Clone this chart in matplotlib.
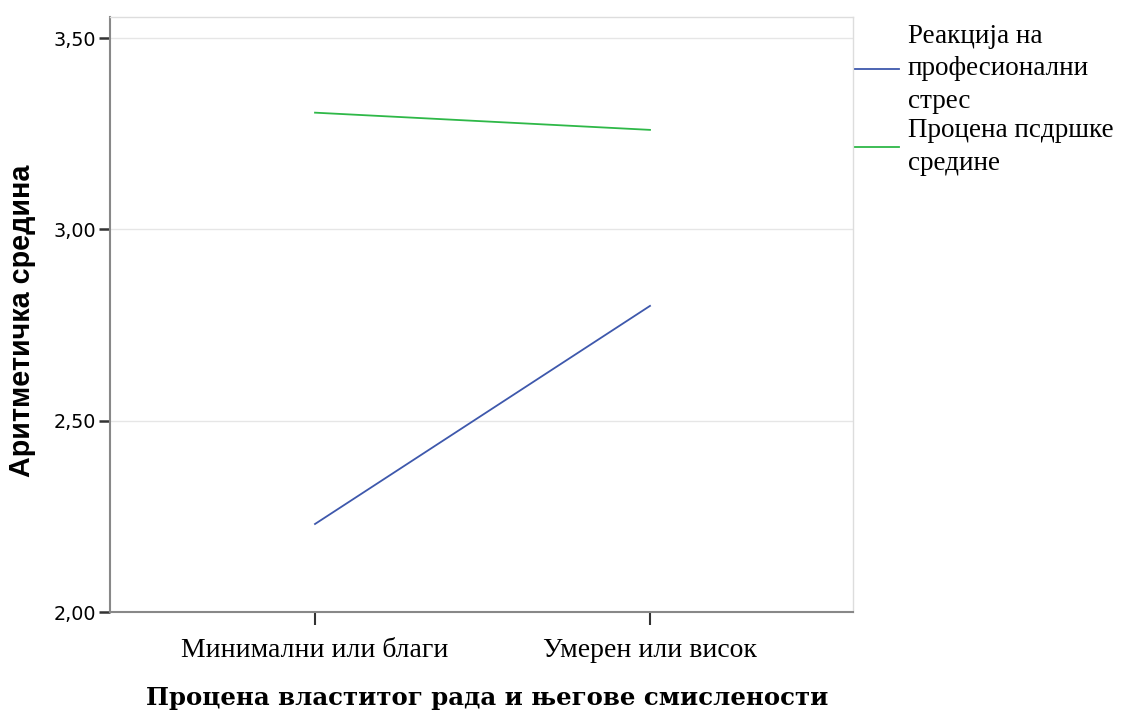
import matplotlib.pyplot as plt

categories = ['Минимални или благи', 'Умерен или висок']
series_names = ['Реакција на\nпрофесионални\nстрес', 'Процена пcдршке\nсредине']
stress = [2.23, 2.80]
support = [3.305, 3.26]
yticks = [2.00, 2.50, 3.00, 3.50]
ytick_labels = ['2,00', '2,50', '3,00', '3,50']

fig = plt.figure(figsize=(11.29, 7.15), dpi=100)
ax = fig.add_axes([110/1129, 103/715, 743/1129, 595/715])

x = list(range(len(categories)))
l1, = ax.plot(x, stress, color='#3E58AC', lw=1.3)
l2, = ax.plot(x, support, color='#2EB848', lw=1.3)

ax.set_xlim(-0.612, 1.606)
ax.set_ylim(2.0, 3.555)
ax.set_yticks(yticks)
ax.set_yticklabels(ytick_labels, family='DejaVu Sans', fontsize=13.8)
ax.set_xticks(x)
ax.set_xticklabels(categories, family='Liberation Serif', fontsize=20)
ax.tick_params(axis='y', length=8, width=1.8, color='#333333', pad=2)
ax.tick_params(axis='x', length=9, width=1.5, color='#333333', pad=10)

for y in yticks:
    ax.axhline(y, color='#e6e6e6', lw=1, zorder=0)

for s in ['left', 'bottom']:
    ax.spines[s].set_color('#888888')
    ax.spines[s].set_linewidth(1.5)
for s in ['top', 'right']:
    ax.spines[s].set_color('#dddddd')
    ax.spines[s].set_linewidth(1)

ax.set_ylabel('Аритметичка средина', family='Liberation Sans', fontweight='bold',
              fontsize=20.7)
ax.yaxis.set_label_coords(-0.099, 0.489)
ax.set_xlabel('Процена властитог рада и његове смислености', family='DejaVu Serif',
              fontweight='bold', fontsize=17.6)
ax.xaxis.set_label_coords(0.507, -0.125)

leg = ax.legend([l1, l2], series_names, loc='upper left',
                bbox_to_anchor=(1.0 - 5/743, 1.0),
                frameon=False, prop={'family': 'Liberation Serif', 'size': 19.5},
                handlelength=1.65, handletextpad=0.3, borderaxespad=0.0, borderpad=0.25,
                labelspacing=0.15)
for t in leg.get_texts():
    t.set_linespacing(1.4)

fig.savefig('out.png', dpi=100)
